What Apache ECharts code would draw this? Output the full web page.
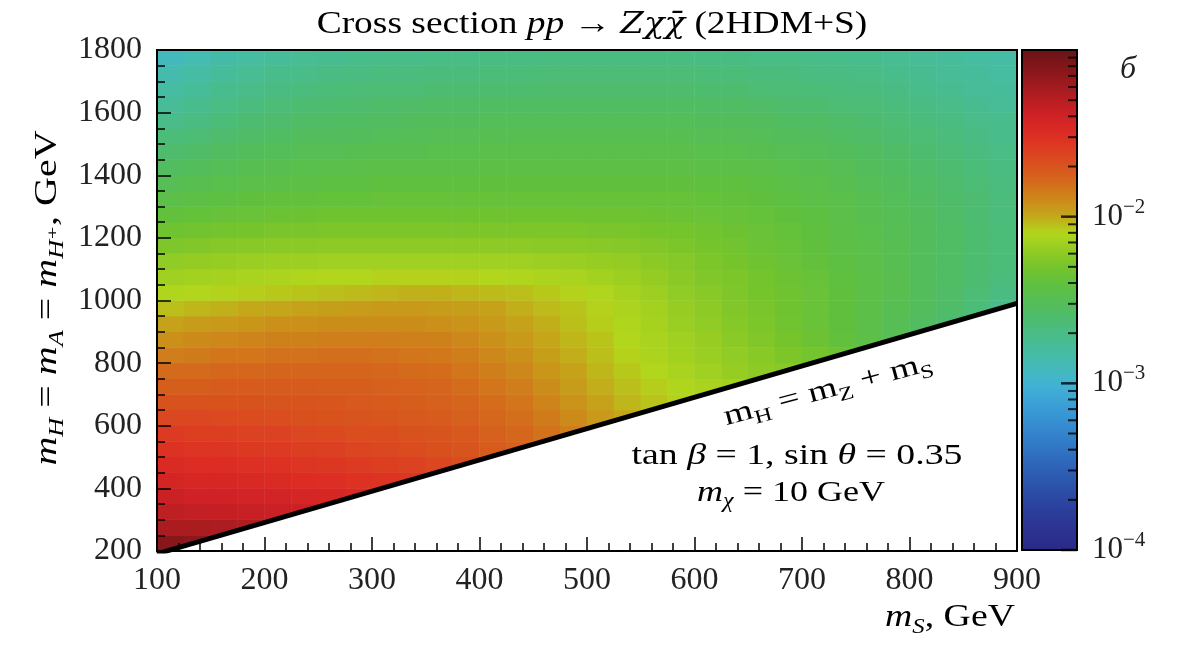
<!DOCTYPE html>
<html>
<head>
<meta charset="utf-8">
<title>Cross section pp → Zχχ̄ (2HDM+S)</title>
<script src="https://cdn.jsdelivr.net/npm/echarts@6/dist/echarts.min.js"></script>
<style>
html, body { margin: 0; padding: 0; background: #fff; }
#chart { width: 1183px; height: 645px; }
</style>
</head>
<body>
<div id="chart"></div>
<script>
// cell centres: m_S in 25 GeV cells, m_H in 50 GeV cells
var msCenters = [112.5, 137.5, 162.5, 187.5, 212.5, 237.5, 262.5, 287.5, 312.5, 337.5, 362.5, 387.5,
  412.5, 437.5, 462.5, 487.5, 512.5, 537.5, 562.5, 587.5, 612.5, 637.5, 662.5, 687.5,
  712.5, 737.5, 762.5, 787.5, 812.5, 837.5, 862.5, 887.5];
var mhCenters = [225, 275, 325, 375, 425, 475, 525, 575, 625, 675, 725, 775, 825, 875, 925, 975,
  1025, 1075, 1125, 1175, 1225, 1275, 1325, 1375, 1425, 1475, 1525, 1575, 1625, 1675, 1725, 1775];

// log10(sigma), one row per m_H (bottom -> top).
// rows stop where the cells lie under m_H = m_Z + m_S
var logSigma = [
  [-1.12, -1.14, -1.16],
  [-1.25, -1.25, -1.26, -1.27, -1.28],
  [-1.32, -1.34, -1.35, -1.36, -1.37, -1.38, -1.39],
  [-1.38, -1.40, -1.40, -1.42, -1.42, -1.44, -1.45, -1.47, -1.48],
  [-1.43, -1.45, -1.45, -1.47, -1.48, -1.50, -1.51, -1.53, -1.54, -1.56, -1.58],
  [-1.48, -1.50, -1.50, -1.52, -1.53, -1.55, -1.56, -1.58, -1.60, -1.62, -1.64, -1.66, -1.69],
  [-1.53, -1.55, -1.55, -1.57, -1.58, -1.60, -1.61, -1.63, -1.64, -1.66, -1.68, -1.70, -1.73, -1.76, -1.79],
  [-1.58, -1.60, -1.60, -1.62, -1.62, -1.64, -1.65, -1.67, -1.67, -1.69, -1.70, -1.72, -1.75, -1.78, -1.82, -1.86, -1.92],
  [-1.64, -1.64, -1.65, -1.66, -1.67, -1.68, -1.69, -1.70, -1.71, -1.72, -1.73, -1.75, -1.78, -1.81, -1.85, -1.90, -1.95, -1.99, -2.04],
  [-1.69, -1.69, -1.69, -1.69, -1.70, -1.70, -1.71, -1.72, -1.73, -1.74, -1.75, -1.77, -1.80, -1.83, -1.88, -1.93, -1.98, -2.03, -2.06, -2.09, -2.11],
  [-1.74, -1.74, -1.73, -1.73, -1.73, -1.73, -1.74, -1.74, -1.75, -1.76, -1.77, -1.80, -1.83, -1.86, -1.91, -1.96, -2.01, -2.05, -2.08, -2.11, -2.13, -2.15, -2.18],
  [-1.79, -1.79, -1.78, -1.78, -1.77, -1.77, -1.77, -1.77, -1.78, -1.79, -1.80, -1.83, -1.86, -1.89, -1.94, -1.98, -2.03, -2.07, -2.10, -2.13, -2.16, -2.19, -2.22, -2.24, -2.27],
  [-1.86, -1.85, -1.83, -1.83, -1.82, -1.82, -1.81, -1.81, -1.82, -1.83, -1.84, -1.86, -1.89, -1.92, -1.97, -2.01, -2.05, -2.09, -2.12, -2.15, -2.18, -2.21, -2.24, -2.28, -2.31, -2.35, -2.38],
  [-1.92, -1.90, -1.89, -1.88, -1.87, -1.87, -1.86, -1.86, -1.86, -1.87, -1.87, -1.89, -1.92, -1.95, -1.99, -2.03, -2.06, -2.10, -2.13, -2.16, -2.19, -2.23, -2.26, -2.30, -2.34, -2.39, -2.44, -2.49, -2.54],
  [-1.98, -1.96, -1.95, -1.94, -1.92, -1.92, -1.91, -1.91, -1.91, -1.91, -1.92, -1.93, -1.95, -1.98, -2.01, -2.05, -2.08, -2.11, -2.14, -2.18, -2.21, -2.25, -2.28, -2.32, -2.36, -2.40, -2.45, -2.50, -2.55, -2.61, -2.66],
  [-2.05, -2.03, -2.02, -2.00, -1.99, -1.98, -1.97, -1.96, -1.95, -1.95, -1.96, -1.97, -1.98, -2.01, -2.04, -2.06, -2.09, -2.12, -2.15, -2.19, -2.22, -2.26, -2.29, -2.33, -2.36, -2.40, -2.44, -2.49, -2.54, -2.59, -2.65, -2.71],
  [-2.11, -2.10, -2.09, -2.08, -2.07, -2.06, -2.05, -2.04, -2.03, -2.02, -2.02, -2.03, -2.04, -2.05, -2.07, -2.09, -2.11, -2.14, -2.17, -2.21, -2.24, -2.27, -2.30, -2.33, -2.36, -2.40, -2.44, -2.48, -2.53, -2.58, -2.63, -2.68],
  [-2.16, -2.15, -2.14, -2.13, -2.12, -2.11, -2.10, -2.10, -2.09, -2.09, -2.09, -2.09, -2.10, -2.11, -2.12, -2.13, -2.15, -2.17, -2.20, -2.23, -2.26, -2.28, -2.31, -2.34, -2.37, -2.41, -2.44, -2.48, -2.53, -2.57, -2.62, -2.66],
  [-2.21, -2.20, -2.19, -2.18, -2.17, -2.17, -2.16, -2.16, -2.16, -2.16, -2.16, -2.16, -2.16, -2.16, -2.17, -2.18, -2.19, -2.20, -2.23, -2.25, -2.28, -2.30, -2.33, -2.36, -2.39, -2.42, -2.45, -2.49, -2.53, -2.57, -2.61, -2.65],
  [-2.27, -2.26, -2.25, -2.24, -2.23, -2.23, -2.22, -2.22, -2.22, -2.22, -2.22, -2.22, -2.22, -2.22, -2.23, -2.23, -2.24, -2.25, -2.26, -2.28, -2.30, -2.32, -2.35, -2.37, -2.40, -2.43, -2.46, -2.49, -2.53, -2.57, -2.61, -2.65],
  [-2.33, -2.32, -2.31, -2.30, -2.29, -2.29, -2.28, -2.28, -2.28, -2.28, -2.28, -2.28, -2.28, -2.28, -2.28, -2.28, -2.29, -2.29, -2.30, -2.31, -2.32, -2.34, -2.36, -2.38, -2.41, -2.44, -2.47, -2.50, -2.53, -2.57, -2.61, -2.65],
  [-2.39, -2.38, -2.37, -2.36, -2.35, -2.34, -2.33, -2.33, -2.33, -2.33, -2.33, -2.33, -2.33, -2.33, -2.33, -2.33, -2.33, -2.33, -2.34, -2.35, -2.36, -2.37, -2.38, -2.40, -2.42, -2.45, -2.48, -2.51, -2.54, -2.58, -2.62, -2.66],
  [-2.45, -2.43, -2.42, -2.40, -2.39, -2.39, -2.38, -2.38, -2.37, -2.37, -2.37, -2.37, -2.37, -2.37, -2.37, -2.37, -2.37, -2.37, -2.37, -2.37, -2.38, -2.39, -2.40, -2.42, -2.44, -2.46, -2.49, -2.52, -2.55, -2.59, -2.62, -2.66],
  [-2.50, -2.48, -2.47, -2.45, -2.44, -2.43, -2.42, -2.42, -2.41, -2.41, -2.41, -2.41, -2.40, -2.40, -2.40, -2.40, -2.40, -2.40, -2.40, -2.40, -2.41, -2.41, -2.42, -2.44, -2.46, -2.48, -2.51, -2.54, -2.57, -2.60, -2.63, -2.67],
  [-2.55, -2.53, -2.51, -2.49, -2.48, -2.47, -2.46, -2.45, -2.44, -2.44, -2.44, -2.44, -2.43, -2.43, -2.43, -2.43, -2.43, -2.43, -2.43, -2.43, -2.44, -2.44, -2.45, -2.47, -2.48, -2.50, -2.53, -2.56, -2.59, -2.62, -2.65, -2.68],
  [-2.60, -2.58, -2.55, -2.53, -2.52, -2.50, -2.50, -2.49, -2.48, -2.48, -2.47, -2.47, -2.46, -2.46, -2.46, -2.46, -2.46, -2.46, -2.46, -2.46, -2.47, -2.47, -2.48, -2.50, -2.51, -2.53, -2.55, -2.58, -2.61, -2.64, -2.67, -2.70],
  [-2.65, -2.63, -2.60, -2.58, -2.56, -2.54, -2.54, -2.53, -2.52, -2.51, -2.50, -2.50, -2.49, -2.49, -2.49, -2.49, -2.49, -2.49, -2.49, -2.49, -2.50, -2.50, -2.51, -2.53, -2.54, -2.56, -2.58, -2.61, -2.63, -2.66, -2.69, -2.72],
  [-2.71, -2.68, -2.65, -2.62, -2.60, -2.58, -2.57, -2.56, -2.55, -2.54, -2.53, -2.53, -2.52, -2.52, -2.52, -2.52, -2.52, -2.52, -2.52, -2.52, -2.53, -2.53, -2.54, -2.56, -2.57, -2.59, -2.61, -2.63, -2.66, -2.68, -2.71, -2.73],
  [-2.76, -2.73, -2.70, -2.67, -2.64, -2.62, -2.61, -2.60, -2.59, -2.58, -2.57, -2.57, -2.56, -2.56, -2.56, -2.56, -2.56, -2.56, -2.56, -2.56, -2.57, -2.57, -2.58, -2.60, -2.61, -2.63, -2.64, -2.66, -2.69, -2.71, -2.74, -2.76],
  [-2.81, -2.77, -2.73, -2.71, -2.69, -2.67, -2.65, -2.64, -2.63, -2.63, -2.62, -2.62, -2.61, -2.61, -2.60, -2.60, -2.60, -2.60, -2.60, -2.60, -2.61, -2.61, -2.63, -2.64, -2.65, -2.66, -2.67, -2.69, -2.72, -2.74, -2.76, -2.78],
  [-2.86, -2.82, -2.78, -2.75, -2.72, -2.71, -2.69, -2.68, -2.67, -2.67, -2.66, -2.66, -2.65, -2.65, -2.64, -2.64, -2.64, -2.64, -2.64, -2.64, -2.65, -2.65, -2.66, -2.67, -2.68, -2.69, -2.70, -2.72, -2.74, -2.76, -2.78, -2.80],
  [-2.91, -2.87, -2.83, -2.80, -2.77, -2.75, -2.74, -2.72, -2.71, -2.71, -2.70, -2.70, -2.69, -2.69, -2.68, -2.68, -2.68, -2.68, -2.68, -2.68, -2.69, -2.69, -2.70, -2.70, -2.71, -2.72, -2.73, -2.75, -2.76, -2.78, -2.80, -2.82]
];

// kinematic boundary m_H = m_Z + m_S
var boundaryMS = [100, 900];
var boundaryMH = [191, 991];

// colour bar: log10 range, decade ticks and minor ticks (sigma values)
var cbarMin = -4, cbarMax = -1;
var cbarMajor = [-4, -3, -2];
var cbarMinor = [2e-4, 3e-4, 4e-4, 5e-4, 6e-4, 7e-4, 8e-4, 9e-4,
  2e-3, 3e-3, 4e-3, 5e-3, 6e-3, 7e-3, 8e-3, 9e-3,
  2e-2, 3e-2, 4e-2, 5e-2, 6e-2, 7e-2, 8e-2, 9e-2];

// jet-like palette, -4 .. -1 in steps of 0.1
var palette = ['#2a2a88', '#2b3190', '#2b3a98', '#2b47a2', '#2b55ac', '#2d64b8', '#3074c2', '#3484cc',
  '#3894d4', '#3ca4d6', '#42b4d2', '#44bab8', '#46bca0', '#4abc86', '#4ebc6c', '#56be54',
  '#60c03e', '#76c42c', '#94cc24', '#b2d61c', '#c4a81a', '#cc8a1a', '#d46c1c', '#d8541e',
  '#dc3e22', '#dc2c24', '#d02226', '#b81e22', '#9c1a1e', '#82161a', '#6a1418'];

var serif = '"Liberation Serif", "DejaVu Serif", serif';
var ink = '#222';

var heatData = [];
logSigma.forEach(function (row, i) {
  row.forEach(function (v, j) {
    heatData.push([j, i, v]);
  });
});

function richSet(size) {
  var sub = Math.round(size * 0.66);
  return {
    r: { fontFamily: serif, fontSize: size, lineHeight: size + 8, color: ink },
    i: { fontFamily: serif, fontSize: size, lineHeight: size + 8, fontStyle: 'italic', color: ink },
    x: { fontFamily: '"DejaVu Serif", serif', fontSize: size - 3, lineHeight: size + 8, fontStyle: 'italic', color: ink },
    si: { fontFamily: serif, fontSize: sub, lineHeight: sub + 2, fontStyle: 'italic', color: ink, verticalAlign: 'bottom' },
    sr: { fontFamily: serif, fontSize: sub, lineHeight: sub + 2, color: ink, verticalAlign: 'bottom' }
  };
}

function label(text, x, y, size, sx, extra) {
  var el = {
    type: 'text', x: x, y: y, z: 100, silent: true, scaleX: sx,
    style: { text: text, rich: richSet(size), align: 'center', verticalAlign: 'middle' }
  };
  if (extra) {
    for (var k in extra) el[k] = extra[k];
  }
  return el;
}

var chart = echarts.init(document.getElementById('chart'));
chart.setOption({
  backgroundColor: '#fff',
  animation: false,
  grid: [
    { left: 157, top: 50, width: 860, height: 501, show: true, borderColor: '#000', borderWidth: 2, z: 10, backgroundColor: 'transparent' },
    { left: 1022, top: 50, width: 55, height: 500, show: true, borderColor: '#000', borderWidth: 2, z: 10, backgroundColor: 'transparent' }
  ],
  xAxis: [
    { type: 'category', gridIndex: 0, data: msCenters.map(String), show: false },
    {
      type: 'value', gridIndex: 0, min: 100, max: 900, interval: 100, position: 'bottom', z: 10,
      axisLine: { show: true, lineStyle: { color: '#000', width: 2 } },
      axisTick: { show: true, inside: true, length: 14, lineStyle: { color: '#000', width: 1.5 } },
      minorTick: { show: true, splitNumber: 5, length: 8, lineStyle: { color: '#000', width: 1.5 } },
      splitLine: { show: false },
      axisLabel: { margin: 14, fontFamily: serif, fontSize: 32, color: ink }
    },
    { type: 'value', gridIndex: 1, min: 0, max: 1, show: false }
  ],
  yAxis: [
    { type: 'category', gridIndex: 0, data: mhCenters.map(String), show: false },
    {
      type: 'value', gridIndex: 0, min: 200, max: 1800, interval: 200, position: 'left', z: 10,
      axisLine: { show: true, lineStyle: { color: '#000', width: 2 } },
      axisTick: { show: true, inside: true, length: 14, lineStyle: { color: '#000', width: 1.5 } },
      minorTick: { show: true, splitNumber: 4, length: 8, lineStyle: { color: '#000', width: 1.5 } },
      splitLine: { show: false },
      axisLabel: { margin: 15, fontFamily: serif, fontSize: 32, color: ink, formatter: function (v) { return String(v); } }
    },
    {
      type: 'value', gridIndex: 1, min: cbarMin, max: cbarMax, interval: 1, position: 'right', z: 10,
      axisLine: { show: false },
      axisTick: { show: false },
      splitLine: { show: false },
      axisLabel: {
        margin: 15, showMaxLabel: false,
        formatter: function (v) { return '{b|10}{s|−' + Math.abs(v) + '}'; },
        rich: {
          b: { fontFamily: serif, fontSize: 31, lineHeight: 40, color: ink },
          s: { fontFamily: serif, fontSize: 21, lineHeight: 22, color: ink, verticalAlign: 'top' }
        }
      }
    }
  ],
  visualMap: {
    type: 'continuous', seriesIndex: 0, dimension: 2, min: cbarMin, max: cbarMax,
    calculable: false, left: 1022, top: 50, itemWidth: 55, itemHeight: 500, padding: 0, z: 1,
    inRange: { color: palette }
  },
  series: [
    {
      type: 'heatmap', xAxisIndex: 0, yAxisIndex: 0, data: heatData, silent: true,
      itemStyle: { borderWidth: 0 }, z: 1
    },
    {
      type: 'line', xAxisIndex: 1, yAxisIndex: 1, silent: true, symbol: 'none', z: 3, clip: true,
      data: boundaryMS.map(function (x, k) { return [x, boundaryMH[k]]; }),
      lineStyle: { color: '#000', width: 5 },
      areaStyle: { color: '#fff', opacity: 1, origin: 'start' }
    },
    {
      type: 'scatter', xAxisIndex: 2, yAxisIndex: 2, silent: true, z: 12,
      symbol: 'rect', symbolSize: [9, 2], symbolOffset: [-4.5, 0],
      itemStyle: { color: '#000' },
      data: cbarMinor.map(function (v) { return [1, Math.log10(v)]; })
    },
    {
      type: 'scatter', xAxisIndex: 2, yAxisIndex: 2, silent: true, z: 12,
      symbol: 'rect', symbolSize: [16, 2.5], symbolOffset: [-8, 0],
      itemStyle: { color: '#000' },
      data: cbarMajor.map(function (v) { return [1, v]; })
    }
  ],
  graphic: [
    label('{r|Cross section }{i|pp}{r| → }{x|Zχχ̄}{r| (2HDM+S)}', 592, 25, 32, 1.17),
    label('{i|m}{si|S}{r|, GeV}', 950, 618, 32, 1.18),
    label('{i|m}{si|H}{r| = }{i|m}{si|A}{r| = }{i|m}{si|H⁺}{r|, GeV}', 48, 298, 32, 1.25, { rotation: Math.PI / 2 }),
    {
      type: 'text', x: 1128, y: 70, z: 100, silent: true,
      style: { text: 'б', fontFamily: serif, fontSize: 32, fontStyle: 'italic', fill: ink, align: 'center', verticalAlign: 'middle' }
    },
    label('{r|m}{sr|H}{r| = m}{sr|Z}{r| + m}{sr|S}', 828, 390, 29, 1.3, { rotation: 15 * Math.PI / 180 }),
    label('{r|tan }{i|β}{r| = 1, sin }{i|θ}{r| = 0.35}', 797, 456, 30, 1.26),
    label('{i|m}{si|χ}{r| = 10 GeV}', 791, 493, 30, 1.2)
  ]
});
</script>
</body>
</html>
